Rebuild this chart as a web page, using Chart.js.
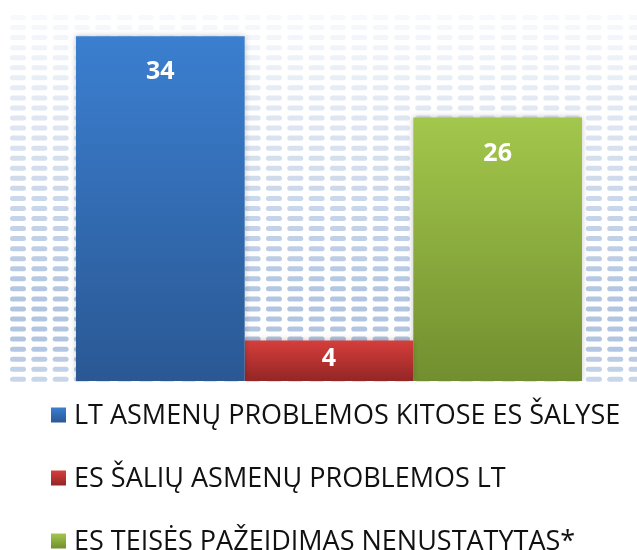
<!DOCTYPE html>
<html>
<head>
<meta charset="utf-8">
<script src="https://cdn.jsdelivr.net/npm/chart.js@4"></script>
<style>
    html, body { margin: 0; padding: 0; background: #ffffff; }
    #chart-wrap { width: 637px; height: 550px; }
</style>
</head>
<body>
<div id="chart-wrap"><canvas id="eu-chart"></canvas></div>
<script>
// Chart data
const categories = [''];
const seriesLabels = [
    'LT ASMENŲ PROBLEMOS KITOSE ES ŠALYSE',
    'ES ŠALIŲ ASMENŲ PROBLEMOS LT',
    'ES TEISĖS PAŽEIDIMAS NENUSTATYTAS*'
];
const ltProblemsAbroad = [34];
const euProblemsInLt = [4];
const noBreachFound = [26];
const yMax = 36;

// gradient colours for each series (top, bottom)
const seriesColors = [
    ['#3b7fd0', '#2a5894'],
    ['#d63e3b', '#932626'],
    ['#a3c74c', '#718f2f']
];

function barGradient(colors) {
    return function (context) {
        const chart = context.chart;
        if (!chart.chartArea || context.type !== 'data') {
            return colors[0];
        }
        const yScale = chart.scales.y;
        const top = yScale.getPixelForValue(context.raw);
        const base = yScale.getPixelForValue(0);
        const g = chart.ctx.createLinearGradient(0, top, 0, base);
        g.addColorStop(0, colors[0]);
        g.addColorStop(1, colors[1]);
        return g;
    };
}

// Dotted background like the original slide
const patternBackground = {
    id: 'patternBackground',
    beforeDraw(chart) {
        const ctx = chart.ctx;
        const area = chart.chartArea;
        const left = area.left - 11;
        ctx.save();
        for (let y = area.top + 1.5; y <= area.bottom + 1; y += 10.05) {
            const t = (y - area.top) / (area.bottom - area.top);
            let alpha = 0.08 + t * 0.95;
            if (alpha > 0.82) alpha = 0.82;
            if (t > 0.9) alpha = 0.82 - (t - 0.9) * 2.5;
            ctx.fillStyle = 'rgba(160, 184, 218, ' + alpha + ')';
            for (let x = left; x < chart.width; x += 21.33) {
                ctx.beginPath();
                ctx.roundRect(x, y - 2.5, 16, 5, 2.5);
                ctx.fill();
            }
        }
        ctx.restore();
    }
};

// soft shadow around the bars
const barShadow = {
    id: 'barShadow',
    beforeDatasetsDraw(chart) {
        chart.ctx.save();
        chart.ctx.shadowColor = 'rgba(0, 0, 0, 0.22)';
        chart.ctx.shadowBlur = 6;
    },
    afterDatasetsDraw(chart) {
        chart.ctx.restore();
    }
};

// value labels and the stacked legend
const labelsAndLegend = {
    id: 'labelsAndLegend',
    afterDraw(chart) {
        const ctx = chart.ctx;
        ctx.save();
        ctx.textAlign = 'center';
        ctx.textBaseline = 'middle';
        ctx.fillStyle = '#ffffff';
        ctx.font = 'bold 25px "Open Sans"';
        chart.data.datasets.forEach((ds, i) => {
            const bar = chart.getDatasetMeta(i).data[0];
            const h = bar.base - bar.y;
            const offset = Math.min(36, h / 2 - 2);
            ctx.fillText(String(ds.data[0]), bar.x, bar.y + offset);
        });

        ctx.textAlign = 'left';
        ctx.font = '27px "Open Sans"';
        chart.data.datasets.forEach((ds, i) => {
            const cy = chart.chartArea.bottom + 34 + i * 63;
            const g = ctx.createLinearGradient(0, cy - 7.5, 0, cy + 7.5);
            g.addColorStop(0, seriesColors[i][0]);
            g.addColorStop(1, seriesColors[i][1]);
            ctx.fillStyle = g;
            ctx.fillRect(51, cy - 7.5, 15, 15);
            ctx.fillStyle = '#111111';
            ctx.fillText(ds.label, 74, cy + 1);
        });
        ctx.restore();
    }
};

const datasets = [ltProblemsAbroad, euProblemsInLt, noBreachFound].map((values, i) => ({
    label: seriesLabels[i],
    data: values,
    backgroundColor: barGradient(seriesColors[i]),
    borderWidth: 0,
    categoryPercentage: 0.8214,
    barPercentage: 1.0
}));

const ctx = document.getElementById('eu-chart').getContext('2d');
window.myChart = new Chart(ctx, {
    type: 'bar',
    data: {
        labels: categories,
        datasets: datasets
    },
    options: {
        responsive: true,
        maintainAspectRatio: false,
        animation: false,
        layout: {
            padding: { top: 16, bottom: 169, left: 21, right: 0 }
        },
        plugins: {
            legend: { display: false },
            tooltip: { enabled: false }
        },
        scales: {
            x: { display: false },
            y: { display: false, min: 0, max: yMax }
        }
    },
    plugins: [patternBackground, barShadow, labelsAndLegend]
});
</script>
</body>
</html>
